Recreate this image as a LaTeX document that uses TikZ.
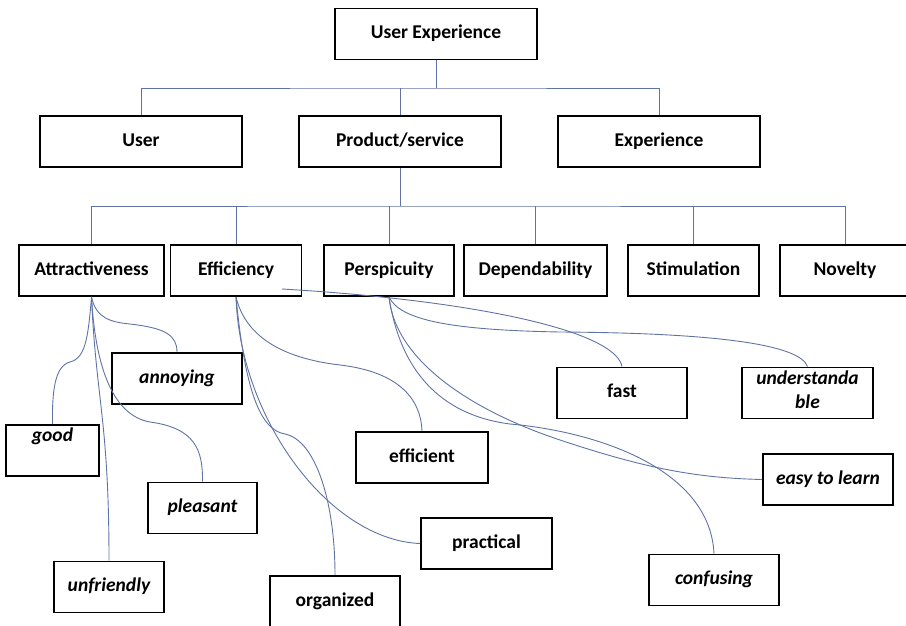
\documentclass[tikz,border=0pt]{standalone}
\usepackage{fontspec}
\setmainfont{Carlito}
\definecolor{linkblue}{RGB}{95,115,165}
\begin{document}
\begin{tikzpicture}[x=1pt,y=-1pt,
  box/.style={draw,line width=1.9pt,minimum height=51pt,inner sep=2pt,align=center,
    execute at begin node=\strut,font=\bfseries\fontsize{19.5}{24}\selectfont},
  word/.style={box,font=\bfseries\itshape\fontsize{19.5}{24}\selectfont},
  link/.style={draw=linkblue,line width=0.9pt}]
\useasboundingbox (0,0) rectangle (906,625);
% first two levels
\node[box,minimum width=202pt] (ux) at (436,34) {User Experience};
\node[box,minimum width=202pt] (user) at (141,141.5) {User};
\node[box,minimum width=202pt] (prod) at (400,141.5) {Product/service};
\node[box,minimum width=202pt] (exp) at (659,141.5) {Experience};
\coordinate (bus1) at (436,88);
\draw[link] (ux.south) -- (bus1);
\draw[link] (user.north) |- (bus1) -| (exp.north);
\draw[link] (prod.north) -- (prod.north |- bus1);
% dimensions
\node[box,minimum width=145pt] (att) at (91.5,270.5) {Attractiveness};
\node[box,minimum width=131pt] (eff) at (236,270.5) {Efficiency};
\node[box,minimum width=130pt] (per) at (389,270.5) {Perspicuity};
\node[box,minimum width=143pt] (dep) at (535.5,270.5) {Dependability};
\node[box,minimum width=131pt] (sti) at (693.5,270.5) {Stimulation};
\node[box,minimum width=130pt] (nov) at (845,270.5) {Novelty};
\coordinate (bus2) at (400,206);
\draw[link] (prod.south) -- (bus2);
\draw[link] (att.north) |- (bus2) -| (nov.north);
\foreach \n in {eff,per,dep,sti}
  \draw[link] (\n.north) -- (\n.north |- bus2);
% items
\node[word,minimum width=130pt] (ann) at (177,378.5) {annoying};
\node[word,minimum width=93pt] (good) at (52.5,450.5) {good\\\mbox{}};
\node[word,minimum width=109pt] (ple) at (202.5,508) {pleasant};
\node[word,minimum width=110pt] (unf) at (109,587) {unfriendly};
\node[box,minimum width=130pt] (org) at (335,601.5) {organized};
\node[box,minimum width=132pt] (effc) at (422,457.5) {efficient};
\node[box,minimum width=131pt] (prac) at (486.5,543.5) {practical};
\node[box,minimum width=130pt] (fast) at (622,393) {fast};
\node[word,minimum width=131pt] (und) at (807.5,393) {understanda\\ble};
\node[word,minimum width=130pt] (easy) at (828,479.5) {easy to learn};
\node[word,minimum width=130pt] (conf) at (714,580) {confusing};
% curved links
\draw[link] (att.south) .. controls (88,340) and (85,358) .. (70,362)
  .. controls (55,366) and (52,390) .. (good.north);
\draw[link] (att.south) .. controls (96,400) and (109,420) .. (unf.north);
\draw[link] (att.south) .. controls (96,318) and (110,322) .. (130,324)
  .. controls (165,328) and (177,335) .. (ann.north);
\draw[link] (att.south) .. controls (95,360) and (110,415) .. (150,422)
  .. controls (195,428) and (203,450) .. (ple.north);
\draw[link] (eff.south) .. controls (245,335) and (280,358) .. (340,365)
  .. controls (400,372) and (421,400) .. (effc.north);
\draw[link] (eff.south) .. controls (240,420) and (330,540) .. (prac.west);
\draw[link] (eff.south) .. controls (245,390) and (260,430) .. (285,434)
  .. controls (315,440) and (335,500) .. (org.north);
\coordinate (fastfrom) at (282,289);
\draw[link] (fastfrom) .. controls (470,300) and (615,330) .. (fast.north);
\draw[link] (per.south) .. controls (400,320) and (450,330) .. (560,332)
  .. controls (720,333) and (800,345) .. (und.north);
\draw[link] (per.south) .. controls (395,360) and (470,410) .. (560,440)
  .. controls (650,470) and (700,478) .. (easy.west);
\draw[link] (per.south) .. controls (400,370) and (440,415) .. (510,424)
  .. controls (600,432) and (710,470) .. (conf.north);
\end{tikzpicture}
\end{document}
